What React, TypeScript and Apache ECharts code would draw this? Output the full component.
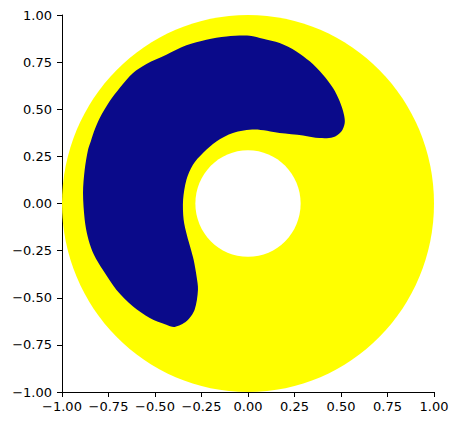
import React, { useEffect, useRef } from "react";
import * as echarts from "echarts";

// Axis ticks
const xTicks = [-1, -0.75, -0.5, -0.25, 0, 0.25, 0.5, 0.75, 1];
const yTicks = [-1, -0.75, -0.5, -0.25, 0, 0.25, 0.5, 0.75, 1];

// Annulus radii (data units)
const outerRadius = 1.0;
const innerRadius = 0.283;

// Boundary of the dark-blue region, in data coordinates
const blobPoints: [number, number][] = [
  [0.52, 0.427], [0.516, 0.471], [0.493, 0.542], [0.457, 0.613], [0.403, 0.683],
  [0.332, 0.754], [0.26, 0.807], [0.17, 0.851], [0.081, 0.874], [0.009, 0.89],
  [-0.116, 0.886], [-0.224, 0.869], [-0.331, 0.839], [-0.439, 0.789], [-0.546, 0.74],
  [-0.618, 0.692], [-0.69, 0.613], [-0.744, 0.542], [-0.797, 0.454], [-0.824, 0.392],
  [-0.845, 0.33], [-0.86, 0.285], [-0.878, 0.179], [-0.887, 0.056], [-0.878, -0.086],
  [-0.862, -0.175], [-0.838, -0.25], [-0.81, -0.305], [-0.772, -0.365], [-0.708, -0.457],
  [-0.618, -0.546], [-0.528, -0.607], [-0.439, -0.643], [-0.394, -0.655], [-0.331, -0.625],
  [-0.287, -0.563], [-0.269, -0.457], [-0.276, -0.39], [-0.292, -0.3], [-0.308, -0.24],
  [-0.328, -0.17], [-0.346, -0.086], [-0.349, 0.02], [-0.331, 0.126], [-0.296, 0.206],
  [-0.242, 0.268], [-0.17, 0.329], [-0.081, 0.374], [0.036, 0.392], [0.17, 0.374],
  [0.296, 0.361], [0.385, 0.347], [0.457, 0.351], [0.502, 0.382],
];

const YELLOW = "#ffff00";
const BLUE = "#0a0a8a";

const fmt = (v: number) => v.toFixed(2).replace("-", "\u2212");

export default function App() {
  const ref = useRef<HTMLDivElement>(null);
  useEffect(() => {
    if (!ref.current) return;
    const chart = echarts.init(ref.current, undefined, { renderer: "svg" });
    const axisCommon = {
      type: "value" as const,
      min: -1,
      max: 1,
      interval: 0.25,
      splitLine: { show: false },
      axisLine: { show: true, onZero: false, lineStyle: { color: "#000", width: 1 } },
      axisTick: { show: true, inside: false, length: 5, lineStyle: { color: "#000", width: 1 } },
      axisLabel: {
        color: "#000",
        fontSize: 13,
        fontFamily: "DejaVu Sans",
        formatter: fmt,
        showMinLabel: true,
        showMaxLabel: true,
      },
    };
    chart.setOption({
      animation: false,
      grid: { left: 62, top: 15, width: 372, height: 377, containLabel: false },
      xAxis: { ...axisCommon, axisLabel: { ...axisCommon.axisLabel, margin: 8 } },
      yAxis: { ...axisCommon, axisLabel: { ...axisCommon.axisLabel, margin: 10 } },
      series: [
        {
          type: "custom",
          z: 1,
          clip: false,
          data: [[0, 0, outerRadius]],
          renderItem: (params: any, api: any) => {
            const c = api.coord([api.value(0), api.value(1)]);
            const s = api.size([api.value(2), api.value(2)]);
            return { type: "ellipse", shape: { cx: c[0], cy: c[1], rx: s[0], ry: s[1] }, style: { fill: YELLOW } };
          },
        },
        {
          type: "custom",
          z: 2,
          clip: false,
          data: [[0, 0]],
          renderItem: (params: any, api: any) => {
            const pts = blobPoints.map((p) => api.coord(p));
            return { type: "polygon", shape: { points: pts, smooth: 0.3 }, style: { fill: BLUE } };
          },
        },
        {
          type: "custom",
          z: 3,
          clip: false,
          data: [[0, 0, innerRadius]],
          renderItem: (params: any, api: any) => {
            const c = api.coord([api.value(0), api.value(1)]);
            const s = api.size([api.value(2), api.value(2)]);
            return { type: "ellipse", shape: { cx: c[0], cy: c[1], rx: s[0], ry: s[1] }, style: { fill: "#ffffff" } };
          },
        },
      ],
    });
    return () => chart.dispose();
  }, []);
  return (
    <div
      ref={ref}
      style={{ position: "fixed", left: 0, top: 0, width: 453, height: 423, background: "#fff" }}
    />
  );
}
